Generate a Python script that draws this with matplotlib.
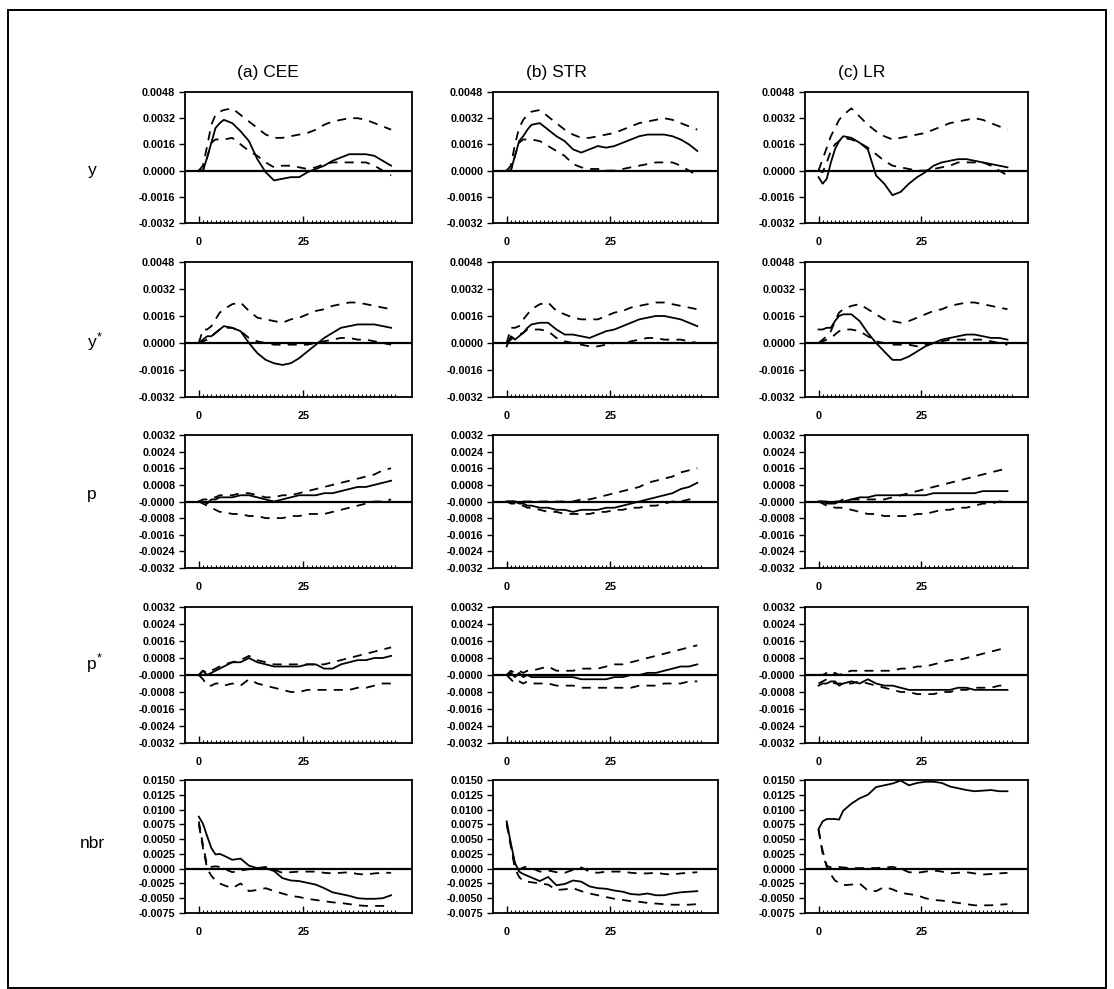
import matplotlib
matplotlib.use("Agg")
import matplotlib.pyplot as plt
from matplotlib.patches import Rectangle

plt.rcParams["font.family"] = ["Liberation Sans", "DejaVu Sans"]

T = [0, 1, 2, 3, 4, 5, 6, 8, 10, 12, 14, 16, 18, 20, 22, 24, 26, 28, 30, 32, 34, 36, 38, 40, 42, 44, 46]

# all responses in units of 1e-4
# row y
y_cee = [0, 0, 8, 17, 26, 29, 31, 29, 24, 18, 7, -1, -6, -5, -4, -4, -1, 1, 3, 6, 8, 10, 10, 10, 9, 6, 3]
y_cee_hi = [0, 3, 15, 28, 34, 36, 37, 38, 34, 30, 26, 22, 20, 20, 21, 22, 23, 25, 28, 30, 31, 32, 32, 31, 29, 27, 25]
y_cee_lo = [0, 0, 8, 17, 19, 19, 19, 20, 16, 12, 9, 5, 2, 3, 3, 2, 1, 2, 4, 5, 5, 5, 5, 5, 3, 0, -3]
y_str = [0, 0, 9, 18, 21, 25, 28, 29, 25, 21, 18, 13, 11, 13, 15, 14, 15, 17, 19, 21, 22, 22, 22, 21, 19, 16, 12]
y_str_hi = [0, 3, 16, 26, 31, 34, 36, 37, 33, 29, 25, 22, 20, 20, 21, 22, 23, 25, 27, 29, 30, 31, 32, 31, 29, 27, 25]
y_str_lo = [0, 0, 9, 17, 19, 19, 19, 18, 15, 12, 9, 4, 2, 1, 1, 0, 0, 1, 2, 3, 4, 5, 5, 5, 3, 0, -3]
y_lr = [-4, -8, -5, 5, 13, 18, 21, 20, 17, 13, -3, -8, -15, -13, -8, -4, -1, 3, 5, 6, 7, 7, 6, 5, 4, 3, 2]
y_lr_hi = [0, 7, 14, 21, 26, 31, 34, 38, 33, 28, 24, 21, 19, 20, 21, 22, 23, 25, 27, 29, 30, 31, 32, 31, 29, 27, 25]
y_lr_lo = [0, -1, 5, 12, 16, 18, 20, 19, 17, 14, 10, 6, 3, 2, 1, 0, 0, 1, 2, 3, 5, 5, 5, 5, 3, 0, -3]

# row y*
ys_cee = [0, 2, 4, 4, 6, 8, 10, 9, 7, 0, -6, -10, -12, -13, -12, -9, -5, -1, 3, 6, 9, 10, 11, 11, 11, 10, 9]
ys_cee_hi = [0, 8, 8, 10, 14, 18, 20, 23, 24, 19, 15, 14, 13, 12, 14, 15, 17, 19, 20, 22, 23, 24, 24, 23, 22, 21, 20]
ys_cee_lo = [0, 1, 2, 4, 6, 8, 9, 9, 7, 3, 1, 0, -1, -1, -1, -1, -1, 0, 1, 2, 3, 3, 2, 2, 1, 0, -1]
ys_str = [-2, 4, 2, 4, 6, 9, 11, 12, 12, 8, 5, 5, 4, 3, 5, 7, 8, 10, 12, 14, 15, 16, 16, 15, 14, 12, 10]
ys_str_hi = [0, 9, 9, 10, 14, 17, 20, 23, 24, 19, 17, 15, 14, 14, 14, 16, 18, 19, 21, 22, 23, 24, 24, 23, 22, 21, 20]
ys_str_lo = [0, 2, 4, 5, 6, 8, 8, 8, 7, 3, 1, 0, -1, -2, -2, -1, 0, 0, 1, 2, 3, 3, 2, 2, 2, 1, 0]
ys_lr = [8, 8, 9, 9, 13, 16, 17, 17, 13, 6, 0, -5, -10, -10, -8, -5, -2, 0, 2, 3, 4, 5, 5, 4, 3, 3, 2]
ys_lr_hi = [0, 2, 4, 7, 13, 18, 20, 22, 23, 20, 17, 14, 13, 12, 13, 15, 17, 19, 20, 22, 23, 24, 24, 23, 22, 21, 20]
ys_lr_lo = [0, 1, 2, 3, 5, 7, 8, 8, 7, 4, 1, 0, -1, -1, -1, -2, -1, 0, 1, 2, 2, 2, 2, 2, 1, 0, -1]

# row p
p_cee = [0, 0, -1, 1, 1, 2, 2, 2, 3, 3, 2, 1, 0, 1, 2, 3, 3, 3, 4, 4, 5, 6, 7, 7, 8, 9, 10]
p_cee_hi = [0, 1, 1, 2, 2, 3, 3, 3, 4, 4, 3, 2, 2, 3, 3, 4, 5, 6, 7, 8, 9, 10, 11, 12, 13, 15, 16]
p_cee_lo = [0, -1, -2, -3, -4, -5, -5, -6, -6, -7, -7, -8, -8, -8, -7, -7, -6, -6, -6, -5, -4, -3, -2, -1, 0, 0, 1]
p_str = [0, 0, 0, -1, -1, -2, -2, -3, -3, -4, -4, -5, -4, -4, -4, -3, -3, -2, -1, 0, 1, 2, 3, 4, 6, 7, 9]
p_str_hi = [0, 0, 0, 0, 0, 0, 0, 0, 0, 0, 0, 0, 1, 1, 2, 3, 4, 5, 6, 7, 9, 10, 11, 12, 14, 15, 16]
p_str_lo = [0, -1, -1, -2, -2, -3, -3, -4, -5, -5, -6, -6, -6, -6, -5, -5, -4, -4, -3, -3, -2, -2, -1, 0, 0, 1, 1]
p_lr = [0, 0, -1, -1, -1, 0, 0, 1, 2, 2, 3, 3, 3, 3, 3, 3, 3, 4, 4, 4, 4, 4, 4, 5, 5, 5, 5]
p_lr_hi = [0, 0, 0, 0, 0, 0, 1, 1, 1, 1, 1, 1, 2, 3, 4, 5, 6, 7, 8, 9, 10, 11, 12, 13, 14, 15, 16]
p_lr_lo = [0, -1, -2, -2, -3, -3, -3, -4, -5, -6, -6, -7, -7, -7, -7, -6, -6, -5, -4, -4, -3, -3, -2, -1, -1, 0, 0]

# row p*
ps_cee = [0, 2, 0, 1, 2, 3, 4, 6, 6, 8, 6, 5, 4, 4, 4, 4, 5, 5, 3, 3, 5, 6, 7, 7, 8, 8, 9]
ps_cee_hi = [0, 2, 1, 2, 3, 4, 5, 6, 7, 9, 7, 6, 5, 5, 5, 5, 5, 5, 5, 6, 7, 8, 9, 10, 11, 12, 13]
ps_cee_lo = [0, -2, -5, -5, -4, -4, -5, -4, -5, -2, -4, -5, -6, -7, -8, -8, -7, -7, -7, -7, -7, -7, -6, -6, -5, -4, -4]
ps_str = [0, 1, -1, 1, -1, 0, -1, -1, -1, -1, -1, -1, -2, -2, -2, -2, -1, -1, 0, 0, 1, 1, 2, 3, 4, 4, 5]
ps_str_hi = [0, 2, 1, 2, 1, 2, 2, 3, 4, 2, 2, 2, 3, 3, 3, 4, 5, 5, 6, 7, 8, 9, 10, 11, 12, 13, 14]
ps_str_lo = [0, -2, -4, -3, -4, -3, -4, -4, -4, -5, -5, -5, -6, -6, -6, -6, -6, -6, -6, -5, -5, -5, -4, -4, -4, -3, -3]
ps_lr = [-5, -4, -4, -3, -3, -5, -4, -3, -4, -2, -4, -5, -5, -6, -7, -7, -7, -7, -7, -7, -6, -6, -7, -7, -7, -7, -7]
ps_lr_hi = [0, 0, 1, 0, 1, 0, 1, 2, 2, 2, 2, 2, 2, 3, 3, 4, 4, 5, 6, 7, 7, 8, 9, 10, 11, 12, 13]
ps_lr_lo = [-4, -3, -2, -3, -4, -4, -4, -4, -3, -4, -5, -6, -7, -8, -8, -9, -9, -9, -8, -8, -7, -7, -6, -6, -6, -5, -5]

# row nbr
nbr_cee = [88, 76, 55, 35, 24, 25, 22, 15, 17, 5, 1, 1, -4, -16, -20, -21, -24, -27, -33, -40, -43, -46, -50, -51, -51, -50, -45]
nbr_cee_hi = [80, 40, 5, 3, 4, 3, 0, -6, -3, -1, 1, 3, -2, -7, -6, -5, -5, -5, -7, -8, -7, -6, -9, -10, -8, -7, -7]
nbr_cee_lo = [75, 35, 0, -12, -20, -25, -28, -33, -25, -38, -36, -33, -38, -42, -46, -48, -51, -53, -55, -57, -58, -60, -62, -63, -63, -63, -63]
nbr_str = [80, 43, 10, -5, -9, -12, -15, -21, -14, -28, -26, -20, -22, -30, -33, -34, -37, -39, -43, -44, -42, -45, -45, -42, -40, -39, -38]
nbr_str_hi = [78, 40, 5, -2, 2, 4, 1, -5, -3, -6, -7, -2, 2, -5, -7, -5, -5, -5, -7, -8, -8, -7, -9, -10, -8, -7, -6]
nbr_str_lo = [75, 38, 0, -14, -21, -22, -23, -25, -27, -36, -35, -33, -38, -42, -45, -48, -51, -53, -55, -56, -58, -59, -60, -61, -61, -61, -60]
nbr_lr = [67, 80, 84, 84, 84, 83, 98, 110, 119, 125, 138, 141, 144, 149, 141, 145, 147, 147, 145, 139, 136, 133, 131, 132, 133, 131, 131]
nbr_lr_hi = [65, 30, 5, 2, 2, 3, 2, 1, 1, 1, 1, 2, 3, 0, -6, -7, -5, -3, -5, -8, -7, -6, -8, -10, -9, -8, -7]
nbr_lr_lo = [67, 25, 3, -10, -20, -24, -28, -27, -25, -37, -38, -31, -35, -41, -43, -45, -50, -53, -54, -56, -58, -60, -62, -62, -62, -61, -60]

col_titles = ["(a) CEE", "(b) STR", "(c) LR"]
row_labels = ["y", "y", "p", "p", "nbr"]
row_star = [False, True, False, True, False]

panels = [
    [(y_cee, y_cee_hi, y_cee_lo), (y_str, y_str_hi, y_str_lo), (y_lr, y_lr_hi, y_lr_lo)],
    [(ys_cee, ys_cee_hi, ys_cee_lo), (ys_str, ys_str_hi, ys_str_lo), (ys_lr, ys_lr_hi, ys_lr_lo)],
    [(p_cee, p_cee_hi, p_cee_lo), (p_str, p_str_hi, p_str_lo), (p_lr, p_lr_hi, p_lr_lo)],
    [(ps_cee, ps_cee_hi, ps_cee_lo), (ps_str, ps_str_hi, ps_str_lo), (ps_lr, ps_lr_hi, ps_lr_lo)],
    [(nbr_cee, nbr_cee_hi, nbr_cee_lo), (nbr_str, nbr_str_hi, nbr_str_lo), (nbr_lr, nbr_lr_hi, nbr_lr_lo)],
]

# y ticks per row (1e-4 units) and their printed labels
yticks_y = [48, 32, 16, 0, -16, -32]
ylabels_y = ["0.0048", "0.0032", "0.0016", "0.0000", "-0.0016", "-0.0032"]
yticks_p = [32, 24, 16, 8, 0, -8, -16, -24, -32]
ylabels_p = ["0.0032", "0.0024", "0.0016", "0.0008", "-0.0000", "-0.0008", "-0.0016", "-0.0024", "-0.0032"]
yticks_n = [150, 125, 100, 75, 50, 25, 0, -25, -50, -75]
ylabels_n = ["0.0150", "0.0125", "0.0100", "0.0075", "0.0050", "0.0025", "0.0000", "-0.0025", "-0.0050", "-0.0075"]
row_ticks = [(yticks_y, ylabels_y), (yticks_y, ylabels_y), (yticks_p, ylabels_p),
             (yticks_p, ylabels_p), (yticks_n, ylabels_n)]

W, H = 1114, 989
fig = plt.figure(figsize=(W / 100, H / 100), dpi=100)

# page frame
fig.patches.append(Rectangle((8 / W, 1 - 988 / H), 1098 / W, 978 / H, transform=fig.transFigure,
                             fill=False, edgecolor="black", linewidth=1.4))

col_x = [(185, 412), (493, 718), (805, 1028)]
row_y = [(92, 223), (262, 397), (435, 568), (607, 743), (780, 913)]
title_x = [268, 556, 862]
label_y = [170, 343, 494, 664, 843]

for r in range(5):
    ticks, labels = row_ticks[r]
    for c in range(3):
        x0, x1 = col_x[c]
        y0, y1 = row_y[r]
        ax = fig.add_axes([x0 / W, 1 - y1 / H, (x1 - x0) / W, (y1 - y0) / H])
        mid, hi, lo = panels[r][c]
        ax.plot(T, mid, color="black", linewidth=1.3)
        ax.plot(T, hi, color="black", linewidth=1.3, dashes=(5, 4))
        ax.plot(T, lo, color="black", linewidth=1.3, dashes=(5, 4))
        ax.axhline(0, color="black", linewidth=1.6)
        ax.set_xlim(-3.3, 51)
        ax.set_ylim(ticks[-1], ticks[0])
        ax.set_yticks(ticks)
        ax.set_yticklabels(labels, fontsize=7.8, fontweight="bold")
        ax.set_xticks([0, 25])
        ax.set_xticklabels(["0", "25"], fontsize=7.8, fontweight="bold")
        ax.set_xticks(range(0, 48), minor=True)
        ax.tick_params(axis="y", direction="out", length=4, width=1, pad=3)
        ax.tick_params(axis="x", which="major", direction="in", length=5, width=1, pad=10)
        ax.tick_params(axis="x", which="minor", direction="in", length=2.5, width=0.8)
        for sp in ax.spines.values():
            sp.set_linewidth(1.3)

for c in range(3):
    fig.text(title_x[c] / W, 1 - 73 / H, col_titles[c], fontsize=12.5, ha="center", va="center")

for r in range(5):
    fig.text(92 / W, 1 - label_y[r] / H, row_labels[r], fontsize=12.5, ha="center", va="center")
    if row_star[r]:
        fig.text(99 / W, 1 - (label_y[r] - 6) / H, "*", fontsize=9, ha="center", va="center")

plt.savefig("out.png", dpi=100)
